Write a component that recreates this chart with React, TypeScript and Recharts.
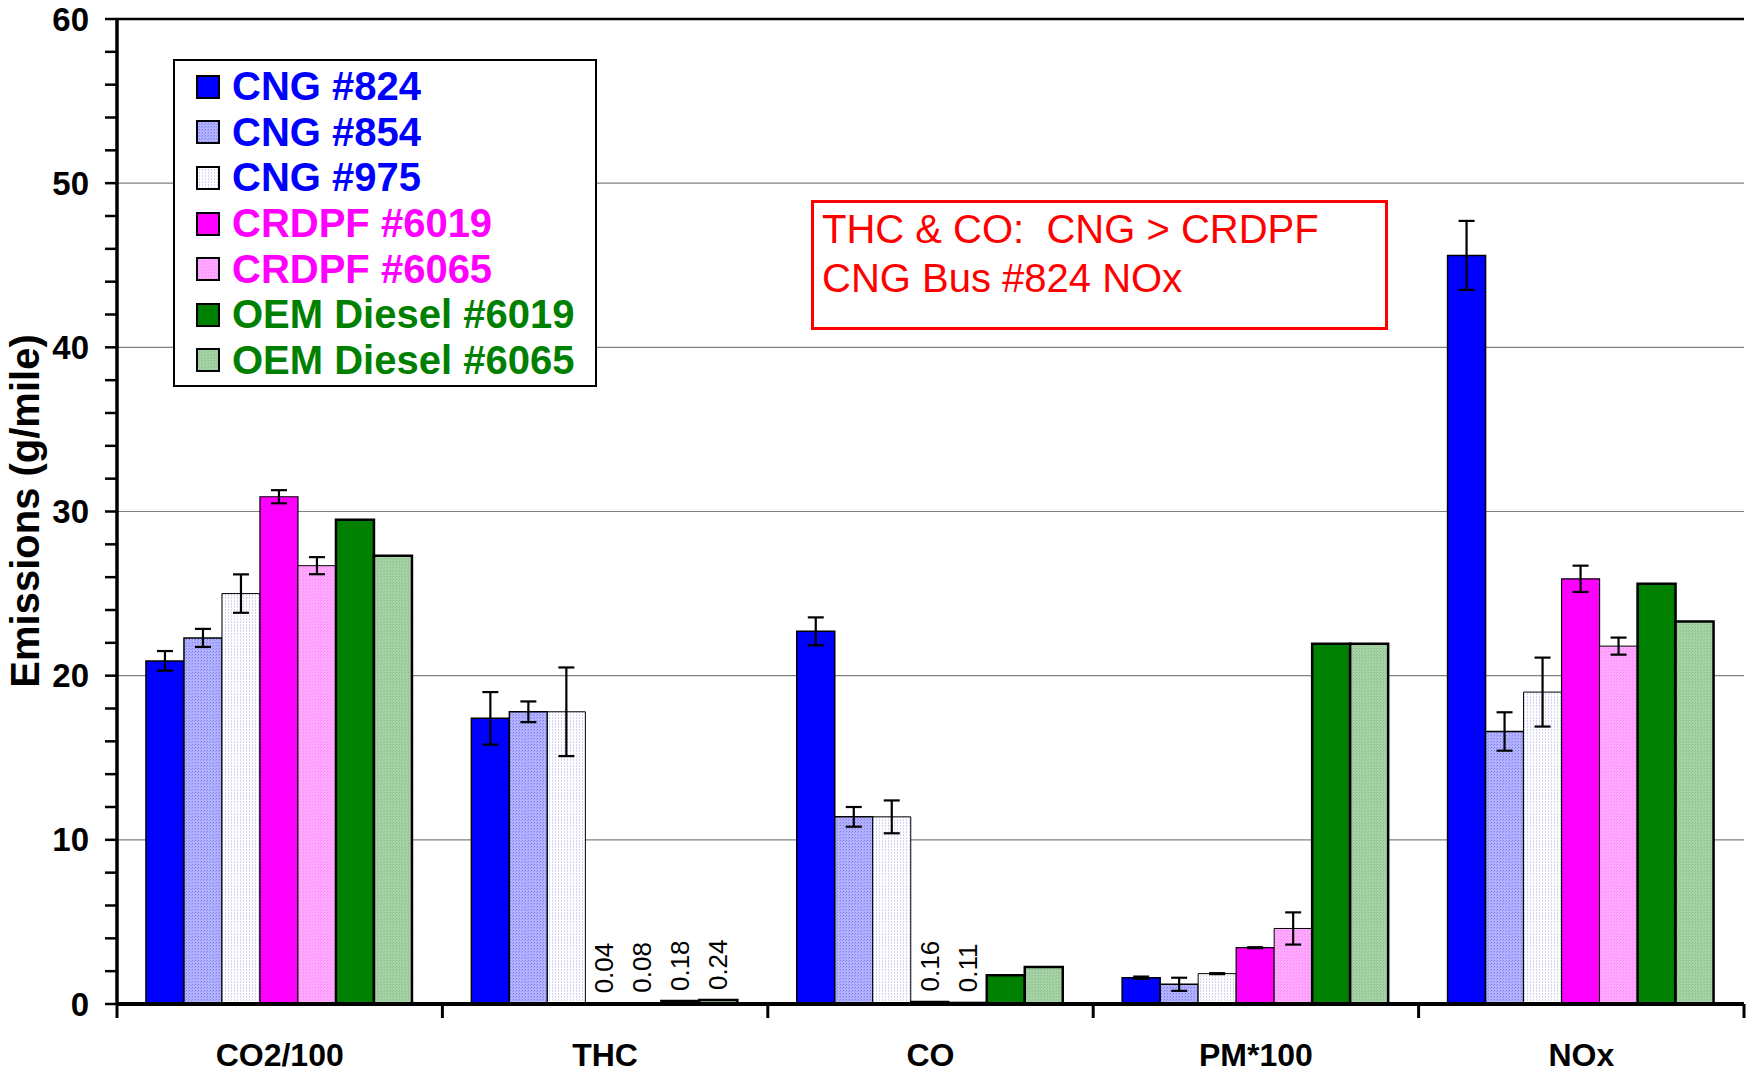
import React from 'react';
import {
  BarChart,
  Bar,
  XAxis,
  YAxis,
  CartesianGrid,
  ErrorBar,
  LabelList,
  ReferenceLine,
  Legend,
} from 'recharts';

const categories = ['CO2/100', 'THC', 'CO', 'PM*100', 'NOx'];

const cng824 = [20.9, 17.4, 22.7, 1.6, 45.6];
const cng824Err = [0.6, 1.6, 0.85, 0.07, 2.1];
const cng854 = [22.3, 17.8, 11.4, 1.2, 16.6];
const cng854Err = [0.55, 0.63, 0.6, 0.4, 1.17];
const cng975 = [25.0, 17.8, 11.4, 1.85, 19.0];
const cng975Err = [1.17, 2.7, 1.0, 0.03, 2.1];
const crdpf6019 = [30.9, 0.04, 0.16, 3.43, 25.9];
const crdpf6019Err = [0.4, 0, 0, 0.03, 0.8];
const crdpf6065 = [26.7, 0.08, 0.11, 4.6, 21.8];
const crdpf6065Err = [0.52, 0, 0, 0.98, 0.52];
const oem6019 = [29.5, 0.18, 1.75, 21.95, 25.6];
const oem6065 = [27.3, 0.24, 2.25, 21.95, 23.3];

const yTicks = [0, 2, 4, 6, 8, 10, 12, 14, 16, 18, 20, 22, 24, 26, 28, 30, 32, 34, 36, 38, 40, 42, 44, 46, 48, 50, 52, 54, 56, 58, 60];
const gridValues = [10, 20, 30, 40, 50];

const FONT = '"Liberation Sans", Arial, Helvetica, sans-serif';

const data = categories.map((c, i) => ({
  category: c,
  cng824: cng824[i],
  cng824Err: cng824Err[i],
  cng854: cng854[i],
  cng854Err: cng854Err[i],
  cng975: cng975[i],
  cng975Err: cng975Err[i],
  crdpf6019: crdpf6019[i],
  crdpf6019Err: crdpf6019Err[i],
  crdpf6065: crdpf6065[i],
  crdpf6065Err: crdpf6065Err[i],
  oem6019: oem6019[i],
  oem6065: oem6065[i],
}));

type Meta = {
  key: string;
  name: string;
  fill: string;
  strokeWidth: number;
  text: string;
  err?: string;
  smallLabels?: boolean;
};

const series: Meta[] = [
  { key: 'cng824', name: 'CNG #824', fill: '#0000ff', strokeWidth: 1.5, text: '#0000ff', err: 'cng824Err' },
  { key: 'cng854', name: 'CNG #854', fill: 'url(#p854)', strokeWidth: 1.5, text: '#0000ff', err: 'cng854Err' },
  { key: 'cng975', name: 'CNG #975', fill: 'url(#p975)', strokeWidth: 1, text: '#0000ff', err: 'cng975Err' },
  { key: 'crdpf6019', name: 'CRDPF #6019', fill: '#ff00ff', strokeWidth: 1.2, text: '#ff00ff', err: 'crdpf6019Err', smallLabels: true },
  { key: 'crdpf6065', name: 'CRDPF #6065', fill: 'url(#p6065)', strokeWidth: 1, text: '#ff00ff', err: 'crdpf6065Err', smallLabels: true },
  { key: 'oem6019', name: 'OEM Diesel #6019', fill: '#008000', strokeWidth: 2.5, text: '#008000', smallLabels: true },
  { key: 'oem6065', name: 'OEM Diesel #6065', fill: 'url(#pOem65)', strokeWidth: 2.5, text: '#008000', smallLabels: true },
];

const Patterns = () => (
  <svg width={0} height={0} style={{ position: 'absolute', left: 0, top: 0 }}>
    <defs>
      <pattern id="p854" width={3} height={3} patternUnits="userSpaceOnUse">
        <rect width={3} height={3} fill="#b2b2ff" />
        <rect x={0} y={0} width={1} height={1} fill="#7c7cf2" />
        <rect x={2} y={1} width={1} height={1} fill="#9292f8" />
      </pattern>
      <pattern id="p975" width={3} height={3} patternUnits="userSpaceOnUse">
        <rect width={3} height={3} fill="#ffffff" />
        <rect x={0} y={0} width={1} height={2} fill="#cfd0f2" />
      </pattern>
      <pattern id="p6065" width={3} height={3} patternUnits="userSpaceOnUse">
        <rect width={3} height={3} fill="#ffaaff" />
        <rect x={0} y={0} width={1} height={1} fill="#f58cf5" />
        <rect x={2} y={1} width={1} height={1} fill="#ff94ff" />
      </pattern>
      <pattern id="pOem65" width={3} height={3} patternUnits="userSpaceOnUse">
        <rect width={3} height={3} fill="#a6d3a6" />
        <rect x={0} y={0} width={1} height={1} fill="#88bb88" />
        <rect x={2} y={1} width={1} height={1} fill="#94c494" />
      </pattern>
    </defs>
  </svg>
);

const XTick = (props: any) => {
  const { x, y, payload, index, width, visibleTicksCount } = props;
  const count = visibleTicksCount || categories.length;
  const band = (typeof width === 'number' && width > 0 ? width : 1627) / count;
  const left = x - band / 2;
  const right = x + band / 2;
  return (
    <g>
      <line x1={left} x2={left} y1={y} y2={y + 14} stroke="#000" strokeWidth={3} />
      {index === count - 1 && (
        <line x1={right} x2={right} y1={y} y2={y + 14} stroke="#000" strokeWidth={3} />
      )}
      <text
        x={x}
        y={y + 51}
        textAnchor="middle"
        dominantBaseline="central"
        fontSize={32}
        fontWeight="bold"
        fontFamily={FONT}
        fill="#000"
      >
        {payload.value}
      </text>
    </g>
  );
};

const YTick = (props: any) => {
  const { x, y, payload } = props;
  if (payload.value % 10 !== 0) return <g />;
  return (
    <text
      x={x}
      y={y}
      textAnchor="end"
      dominantBaseline="central"
      fontSize={33}
      fontWeight="bold"
      fontFamily={FONT}
      fill="#000"
    >
      {payload.value}
    </text>
  );
};

const SmallLabel = (props: any) => {
  const { x, y, width, value } = props;
  if (typeof value !== 'number' || value >= 1) return null;
  const cx = x + width / 2;
  const ty = y - 10;
  return (
    <text
      x={cx}
      y={ty}
      transform={`rotate(-90 ${cx} ${ty})`}
      textAnchor="start"
      dominantBaseline="central"
      fontSize={26}
      fontFamily={FONT}
      fill="#000"
    >
      {value.toFixed(2)}
    </text>
  );
};

const LegendBox = () => (
  <div
    style={{
      width: 424,
      height: 328,
      boxSizing: 'border-box',
      border: '2px solid #000',
      background: '#fff',
      paddingTop: 3,
      fontFamily: FONT,
    }}
  >
    {series.map((s) => (
      <div
        key={s.key}
        style={{ height: 45.6, display: 'flex', alignItems: 'center', position: 'relative' }}
      >
        <svg width={24} height={24} style={{ position: 'absolute', left: 21 }}>
          <rect x={1} y={1} width={22} height={22} fill={s.fill} stroke="#000" strokeWidth={2} />
        </svg>
        <span
          style={{
            position: 'absolute',
            left: 57,
            fontSize: 40,
            fontWeight: 'bold',
            color: s.text,
            whiteSpace: 'nowrap',
            lineHeight: '45px',
          }}
        >
          {s.name}
        </span>
      </div>
    ))}
  </div>
);

export default function App() {
  return (
    <div
      style={{
        position: 'absolute',
        left: 0,
        top: 0,
        width: 1747,
        height: 1072,
        background: '#fff',
        fontFamily: FONT,
      }}
    >
      <Patterns />
      <BarChart
        width={1747}
        height={1072}
        data={data}
        margin={{ top: 19, right: 3, bottom: 0, left: 0 }}
        barCategoryGap="8.9%"
        barGap={0}
      >
        <CartesianGrid
          vertical={false}
          horizontalValues={gridValues}
          stroke="#808080"
          strokeWidth={1.2}
        />
        <XAxis
          dataKey="category"
          height={68}
          tickSize={0}
          tickMargin={0}
          tickLine={false}
          axisLine={{ stroke: '#000', strokeWidth: 4 }}
          tick={<XTick />}
          interval={0}
        />
        <YAxis
          width={117}
          domain={[0, 60]}
          ticks={yTicks}
          interval={0}
          tickSize={12}
          tickMargin={16}
          tickLine={{ stroke: '#000', strokeWidth: 2.5 }}
          axisLine={{ stroke: '#000', strokeWidth: 3.5 }}
          tick={<YTick />}
          allowDataOverflow
          label={{
            content: () => (
              <text
                x={25}
                y={511}
                transform="rotate(-90 25 511)"
                textAnchor="middle"
                dominantBaseline="central"
                fontSize={40}
                fontWeight="bold"
                fontFamily={FONT}
                fill="#000"
              >
                Emissions (g/mile)
              </text>
            ),
          }}
        />
        <YAxis
          yAxisId="r"
          orientation="right"
          width={0}
          domain={[0, 60]}
          tick={false}
          tickLine={false}
          axisLine={{ stroke: '#000', strokeWidth: 2 }}
        />
        <ReferenceLine y={60} stroke="#000" strokeWidth={2.5} />
        <Legend
          layout="vertical"
          align="center"
          verticalAlign="middle"
          content={() => <LegendBox />}
          wrapperStyle={{ position: 'absolute', left: 173, top: 59, width: 424, height: 328 }}
        />
        {series.map((s) => (
          <Bar
            key={s.key}
            dataKey={s.key}
            name={s.name}
            fill={s.fill}
            stroke="#000"
            strokeWidth={s.strokeWidth}
            isAnimationActive={false}
          >
            {s.err && (
              <ErrorBar dataKey={s.err} width={8} stroke="#000" strokeWidth={2.2} direction="y" />
            )}
            {s.smallLabels && <LabelList dataKey={s.key} content={<SmallLabel />} />}
          </Bar>
        ))}
      </BarChart>
      <div
        style={{
          position: 'absolute',
          left: 811,
          top: 200,
          width: 577,
          height: 130,
          boxSizing: 'border-box',
          border: '3px solid #ff0000',
          paddingLeft: 8,
          paddingTop: 2,
          color: '#ff0000',
          fontSize: 40,
          lineHeight: '49px',
          fontFamily: FONT,
          whiteSpace: 'pre',
        }}
      >
        <div>THC &amp; CO:  CNG &gt; CRDPF</div>
        <div>CNG Bus #824 NOx</div>
      </div>
    </div>
  );
}
